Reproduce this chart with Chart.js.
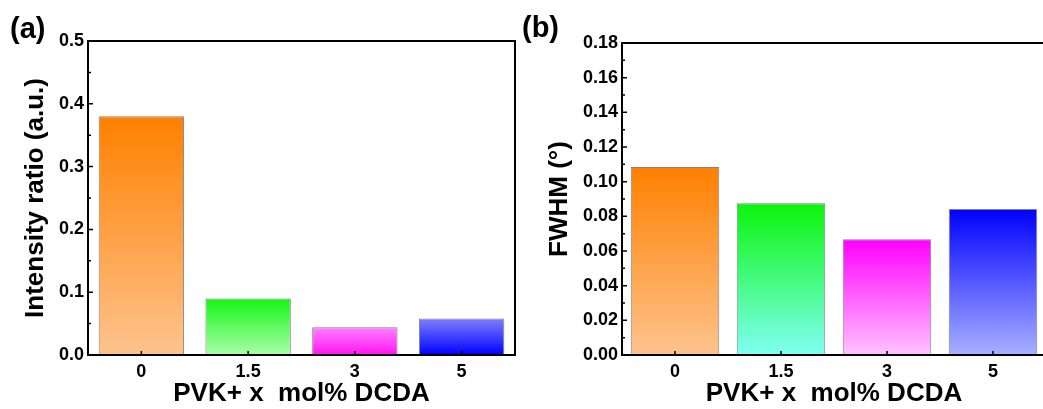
<!DOCTYPE html>
<html>
<head>
<meta charset="utf-8">
<script src="https://cdn.jsdelivr.net/npm/chart.js@4.4.1/dist/chart.umd.min.js"></script>
<style>
  body { margin: 0; width: 1043px; height: 409px; overflow: hidden; position: relative; background: #fff; }
  .wrap { position: absolute; top: 0; height: 409px; }
  .panel { position: absolute; font: bold 29px "Liberation Sans", Arial, sans-serif; line-height: 29px; color: #000; }
</style>
</head>
<body>
<div class="wrap" style="left:0; width:521px;"><canvas id="chartA"></canvas></div>
<div class="wrap" style="left:521px; width:530px;"><canvas id="chartB"></canvas></div>
<div class="panel" style="left:10px; top:14px;">(a)</div>
<div class="panel" style="left:522px; top:13px;">(b)</div>
<script>
// values
const categories = ["0", "1.5", "3", "5"];
const intensityRatio = [0.38, 0.09, 0.044, 0.058];
const fwhm = [0.1085, 0.0875, 0.0668, 0.0842];
const yTicksA = [0, 0.1, 0.2, 0.3, 0.4, 0.5];
const yTicksB = [0, 0.02, 0.04, 0.06, 0.08, 0.1, 0.12, 0.14, 0.16, 0.18];

// gradient stops per bar: [top colour, bottom colour]
const gradA = [
  ["#ff8000", "#fdc38e"],
  ["#14f514", "#aaffaa"],
  ["#ff80ff", "#ff14f0"],
  ["#7f7fff", "#0000ff"],
];
const gradB = [
  ["#ff8000", "#fdc38e"],
  ["#0af50a", "#80fff4"],
  ["#ff00ff", "#ffc4ff"],
  ["#0000ff", "#a8b0ff"],
];

const FONT = "'Liberation Sans', Arial, sans-serif";

function barGradient(stops) {
  return function (context) {
    const chart = context.chart;
    const { ctx, chartArea, scales } = chart;
    if (!chartArea) return stops[stops.length - 1][0];
    const i = context.dataIndex;
    const v = context.dataset.data[i];
    const yTop = scales.y.getPixelForValue(v);
    const yBot = scales.y.getPixelForValue(0);
    const g = ctx.createLinearGradient(0, yTop, 0, yBot);
    g.addColorStop(0, stops[i][0]);
    g.addColorStop(1, stops[i][1]);
    return g;
  };
}

// box frame + inward tick marks like the origin plot
const frameTicks = {
  id: "frameTicks",
  afterDatasetsDraw(chart) {
    const { ctx, chartArea, scales } = chart;
    const { left, top, right, bottom } = chartArea;
    const x = scales.x;
    const y = scales.y;
    ctx.save();
    ctx.strokeStyle = "#000";
    ctx.lineWidth = 1.5;
    ctx.beginPath();
    y.ticks.forEach(function (t, i) {
      const py = y.getPixelForValue(t.value);
      ctx.moveTo(left, py);
      ctx.lineTo(left + 5, py);
      if (i < y.ticks.length - 1) {
        const pm = y.getPixelForValue((t.value + y.ticks[i + 1].value) / 2);
        ctx.moveTo(left, pm);
        ctx.lineTo(left + 3, pm);
      }
    });
    x.ticks.forEach(function (t, i) {
      const px = x.getPixelForTick(i);
      ctx.moveTo(px, bottom);
      ctx.lineTo(px, bottom - 4);
    });
    ctx.stroke();
    ctx.lineWidth = 2;
    ctx.strokeRect(left, top, right - left, bottom - top);
    ctx.restore();
  },
};

function makeChart(id, values, grads, ticks, decimals, yTitle, yMax, pad, yWidth, barPct) {
  const el = document.getElementById(id);
  return new Chart(el, {
    type: "bar",
    data: {
      labels: categories,
      datasets: [
        {
          data: values,
          backgroundColor: barGradient(grads),
          borderColor: "rgba(90,90,90,0.75)",
          borderWidth: 1,
          barPercentage: barPct,
          categoryPercentage: 1,
        },
      ],
    },
    options: {
      responsive: true,
      maintainAspectRatio: false,
      animation: false,
      layout: { padding: pad },
      plugins: {
        legend: { display: false },
        tooltip: { enabled: false },
      },
      scales: {
        x: {
          grid: { display: false, drawTicks: false },
          border: { display: false },
          ticks: {
            color: "#000",
            padding: 6,
            font: { family: FONT, size: 18, weight: "bold" },
          },
          title: {
            display: true,
            text: "PVK+ x  mol% DCDA",
            color: "#000",
            padding: 0,
            font: { family: FONT, size: 26, weight: "bold" },
          },
          afterFit: function (scale) {
            scale.height = 54;
          },
        },
        y: {
          min: 0,
          max: yMax,
          grid: { display: false, drawTicks: false },
          border: { display: false },
          afterBuildTicks: function (scale) {
            scale.ticks = ticks.map(function (v) {
              return { value: v };
            });
          },
          ticks: {
            color: "#000",
            padding: 4,
            font: { family: FONT, size: 18, weight: "bold" },
            callback: function (v) {
              return Number(v).toFixed(decimals);
            },
          },
          title: {
            display: true,
            text: yTitle,
            color: "#000",
            padding: 0,
            font: { family: FONT, size: 26, weight: "bold" },
          },
          afterFit: function (scale) {
            scale.width = yWidth;
          },
        },
      },
    },
    plugins: [frameTicks],
  });
}

makeChart("chartA", intensityRatio, gradA, yTicksA, 1, "Intensity ratio (a.u.)", 0.5,
  { left: 20, top: 41, right: 6, bottom: 0 }, 68, 0.8);
makeChart("chartB", fwhm, gradB, yTicksB, 2, "FWHM (°)", 0.18,
  { left: 23, top: 43, right: 5, bottom: 0 }, 78, 0.835);
</script>
</body>
</html>
